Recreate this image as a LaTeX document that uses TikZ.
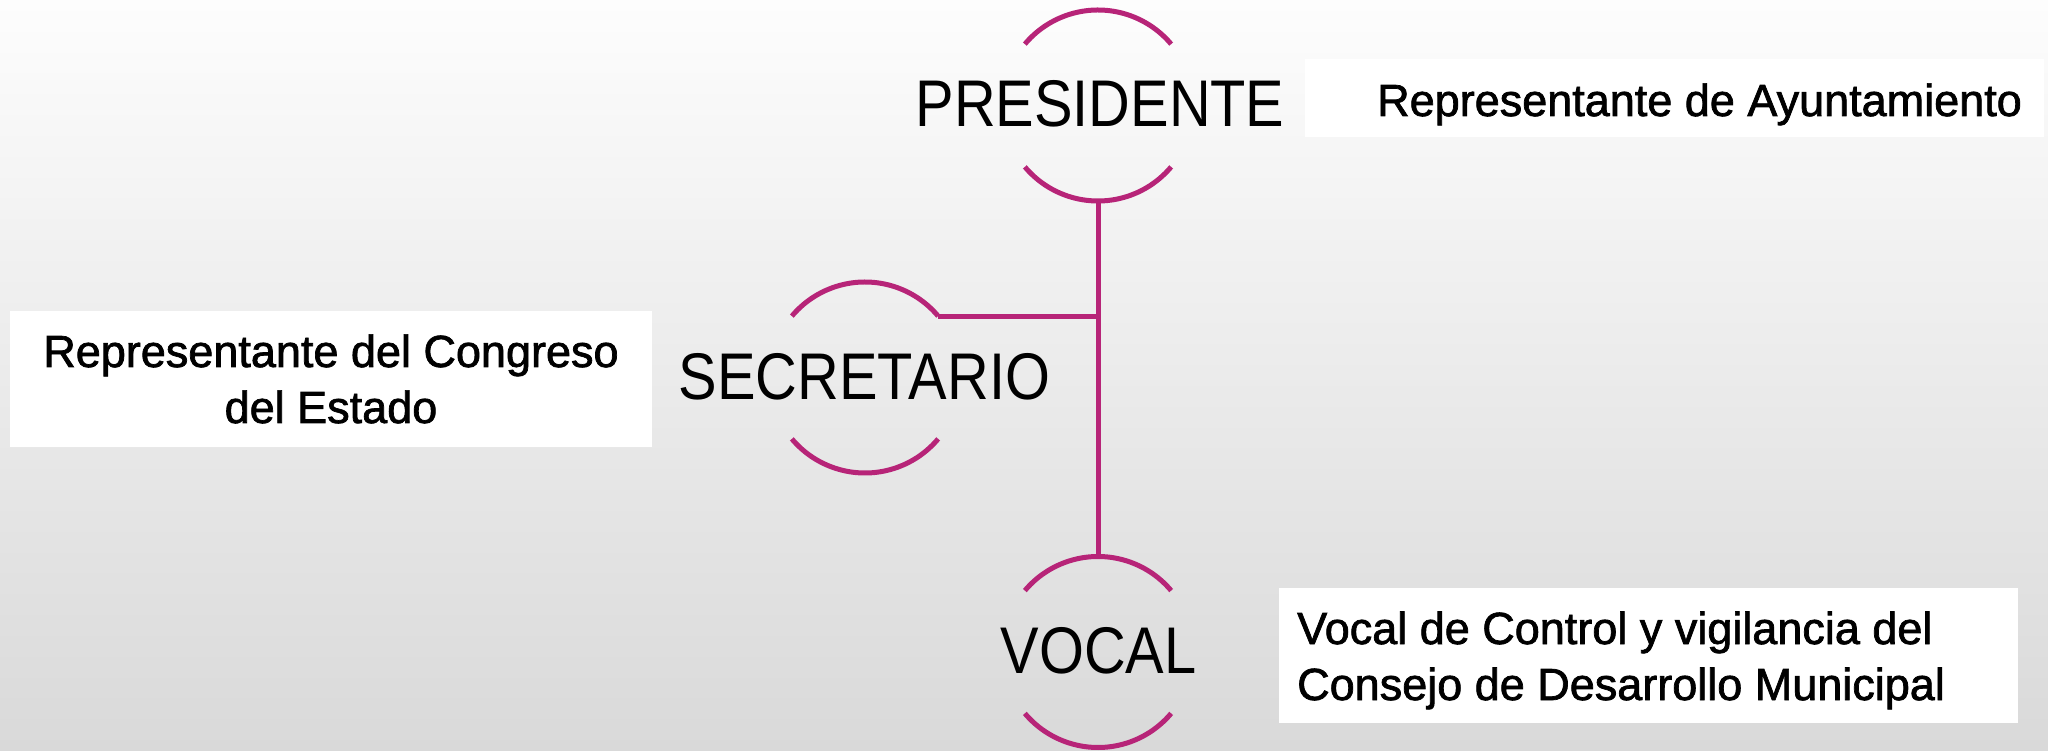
\documentclass[tikz,border=0pt]{standalone}
\usepackage{fontspec}
\setmainfont{Liberation Sans}
\newfontfamily\notefont[FakeBold=1.6]{Liberation Sans}
\newfontfamily\rolefont[FakeStretch=0.875]{Liberation Sans}
\definecolor{ringc}{RGB}{183,36,120}
\definecolor{bgtop}{RGB}{253,253,253}
\definecolor{bgbot}{RGB}{217,217,217}
\tikzset{
  ring/.style={circle, minimum size=191pt, inner sep=0pt, outer sep=0pt, draw=none},
  role/.style={font=\rolefont\fontsize{66}{79}\selectfont, inner sep=0pt, text=black, anchor=base},
  notebox/.style={fill=white, draw=none, inner sep=0pt},
  notetext/.style={font=\notefont\fontsize{45}{56}\selectfont, inner sep=0pt, text=black},
  link/.style={draw=ringc, line width=5pt}
}
\begin{document}
\begin{tikzpicture}[x=1pt,y=1pt]
\shade[top color=bgtop, bottom color=bgbot] (0,0) rectangle (2048,750);
\useasboundingbox (0,0) rectangle (2048,750);

% rings
\node[ring] (p) at (1098,644.5) {};
\node[ring] (s) at (865,372.5) {};
\node[ring] (v) at (1098,98) {};

\foreach \r in {p,s,v}{
  \draw[link] (\r.40) arc[start angle=40, end angle=140, radius=95.5pt];
  \draw[link] (\r.220) arc[start angle=220, end angle=320, radius=95.5pt];
}

% connectors
\draw[link] (p.south) -- (v.north);
\draw[link] (s.40) -- (s.40 -| p.south);

% role labels
\node[role] (pt) at (1100,623.3) {PRESIDENTE};
\node[role] (st) at (864.5,350) {SECRETARIO};
\node[role] (vt) at (1098.5,77) {VOCAL};

% note boxes
\node[notebox, minimum width=739pt, minimum height=78pt] (ab) at (1674.5,652) {};
\node[notetext, anchor=base west] (at) at (1377,634) {Representante de Ayuntamiento};

\node[notebox, minimum width=642pt, minimum height=136pt] (cb) at (331,371) {};
\node[notetext, align=center, anchor=base] (ct) at (331,327) {Representante del Congreso\\del Estado};

\node[notebox, minimum width=739pt, minimum height=135pt] (vb) at (1648.5,94.5) {};
\node[notetext, align=left, anchor=base west] (vtx) at (1297,50) {Vocal de Control y vigilancia del\\Consejo de Desarrollo Municipal};
\end{tikzpicture}
\end{document}
